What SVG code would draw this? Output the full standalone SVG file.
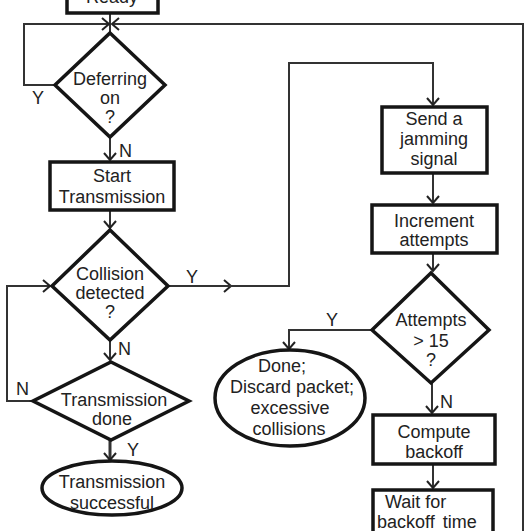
<svg xmlns="http://www.w3.org/2000/svg" width="531" height="531" viewBox="0 0 531 531">
<style>
.shape{fill:#fff;stroke:#151515;stroke-width:3.5}
.conn{fill:none;stroke:#333;stroke-width:2}
text{font-family:"Liberation Sans",Arial,sans-serif;font-size:18px;fill:#222;stroke:none;text-anchor:middle}
.lbl{text-anchor:start}
</style>
<defs>
<marker id="arr" markerUnits="userSpaceOnUse" markerWidth="20" markerHeight="20" viewBox="-10 -10 20 20" refX="0" refY="0" orient="auto">
<path d="M-7,-6 L0,0 L-7,6" fill="none" stroke="#222" stroke-width="2"/>
</marker>
</defs>
<rect width="531" height="531" fill="#fff"/>
<g id="connectors">
<g class="conn">
<path d="M110,13 V24 V33"/>
<path d="M55,85 H24 V24 H109" marker-end="url(#arr)"/>
<path d="M523,540 V24 H112" marker-end="url(#arr)"/>
<path d="M110,137 V160" marker-end="url(#arr)"/>
<path d="M110,210 V228" marker-end="url(#arr)"/>
<path d="M168,286 H231" marker-end="url(#arr)"/>
<path d="M168,286 H289 V63 H433 V105" marker-end="url(#arr)"/>
<path d="M110,340 V360" marker-end="url(#arr)"/>
<path d="M33,401 H7 V286 H50" marker-end="url(#arr)"/>
<path d="M110,440 V460" stroke-width="3" marker-end="url(#arr)"/>
<path d="M433,173 V203" marker-end="url(#arr)"/>
<path d="M433,253 V271" marker-end="url(#arr)"/>
<path d="M372,330 H289 V349" marker-end="url(#arr)"/>
<path d="M432,383 V413" marker-end="url(#arr)"/>
<path d="M433,464 V488" marker-end="url(#arr)"/>
</g>
<text class="lbl" x="32" y="104">Y</text>
<text class="lbl" x="119" y="157">N</text>
<text class="lbl" x="186" y="283">Y</text>
<text class="lbl" x="118" y="355">N</text>
<text class="lbl" x="16" y="395">N</text>
<text class="lbl" x="127" y="456">Y</text>
<text class="lbl" x="326" y="326">Y</text>
<text class="lbl" x="440" y="408">N</text>
</g>
<g id="ready">
<rect class="shape" x="67" y="-30" width="91" height="43"/>
<text x="112" y="3">Ready</text>
</g>
<g id="deferring">
<polygon class="shape" points="110,33 165,85 110,137 55,85"/>
<text x="110" y="85">Deferring</text>
<text x="110" y="104">on</text>
<text x="110" y="123">?</text>
</g>
<g id="start">
<rect class="shape" x="50" y="162" width="124" height="48"/>
<text x="112" y="182">Start</text>
<text x="112" y="203">Transmission</text>
</g>
<g id="collision">
<polygon class="shape" points="110,230 168,286 110,340 52,286"/>
<text x="110" y="280">Collision</text>
<text x="110" y="299">detected</text>
<text x="110" y="318">?</text>
</g>
<g id="txdone">
<polygon class="shape" points="111,362 189,401 111,440 33,401"/>
<text x="114" y="406">Transmission</text>
<text x="112" y="425">done</text>
</g>
<g id="success">
<ellipse class="shape" cx="112" cy="488" rx="70" ry="27"/>
<text x="112" y="488">Transmission</text>
<text x="112" y="509">successful</text>
</g>
<g id="jam">
<rect class="shape" x="382" y="107" width="105" height="66"/>
<text x="434" y="125">Send a</text>
<text x="434" y="145">jamming</text>
<text x="434" y="165">signal</text>
</g>
<g id="increment">
<rect class="shape" x="372" y="205" width="125" height="48"/>
<text x="434" y="227">Increment</text>
<text x="434" y="246">attempts</text>
</g>
<g id="attempts">
<polygon class="shape" points="431,273 489,330 431,383 372,330"/>
<text x="431" y="326">Attempts</text>
<text x="431" y="347">&gt; 15</text>
<text x="431" y="366">?</text>
</g>
<g id="done">
<ellipse class="shape" cx="290" cy="398" rx="75" ry="48"/>
<text x="282" y="372">Done;</text>
<text x="292" y="393">Discard packet;</text>
<text x="290" y="414">excessive</text>
<text x="289" y="435">collisions</text>
</g>
<g id="compute">
<rect class="shape" x="373" y="415" width="122" height="49"/>
<text x="434" y="438">Compute</text>
<text x="434" y="458">backoff</text>
</g>
<g id="wait">
<rect class="shape" x="373" y="490" width="120" height="60"/>
<text class="lbl" x="385" y="508">Wait for</text>
<text class="lbl" x="377" y="528" word-spacing="3">backoff time</text>
</g>
</svg>
